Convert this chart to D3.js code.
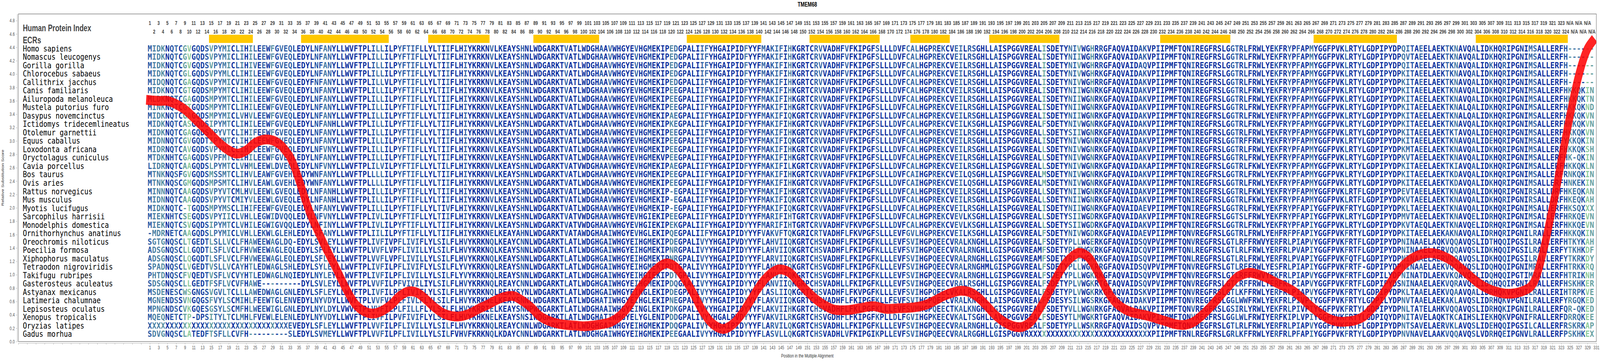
<!DOCTYPE html>
<html>
<head>
<meta charset="utf-8">
<title>TMEM68</title>
<script src="https://cdn.jsdelivr.net/npm/d3@7"></script>
<style>
  html, body { margin: 0; padding: 0; background: #fff; overflow: hidden; }
  svg { display: block; }
  .axis text { font-family: "Liberation Sans", Arial, sans-serif; font-size: 12px; fill: #555; }
  .axis path, .axis line { stroke: #aaa; }
</style>
</head>
<body>
<div id="chart"></div>
<script>
// species in the alignment, top to bottom
const species = [
  "Homo sapiens", "Nomascus leucogenys", "Gorilla gorilla", "Chlorocebus sabaeus",
  "Callithrix jacchus", "Canis familiaris", "Ailuropoda melanoleuca", "Mustela putorius furo",
  "Dasypus novemcinctus", "Ictidomys tridecemlineatus", "Otolemur garnettii", "Equus caballus",
  "Loxodonta africana", "Oryctolagus cuniculus", "Cavia porcellus", "Bos taurus", "Ovis aries",
  "Rattus norvegicus", "Mus musculus", "Myotis lucifugus", "Sarcophilus harrisii",
  "Monodelphis domestica", "Ornithorhynchus anatinus", "Oreochromis niloticus",
  "Poecilia formosa", "Xiphophorus maculatus", "Tetraodon nigroviridis", "Takifugu rubripes",
  "Gasterosteus aculeatus", "Astyanax mexicanus", "Latimeria chalumnae",
  "Lepisosteus oculatus", "Xenopus tropicalis", "Oryzias latipes", "Gadus morhua"
];

// aligned sequences, written as columns 1-83, 84-166, 167-249, 250-330
const seqs = [
  "MIDKNQTCGVGQDSVPYMICLIHILEEWFGVEQLEDYLNFANYLLWVFTPLILLILPYFTIFLLYLTIIFLHIYKRKNVLKEA" + "YSHNLWDGARKTVATLWDGHAAVWHGYEVHGMEKIPEDGPALIIFYHGAIPIDFYYFMAKIFIHKGRTCRVVADHFVFKIPGF" + "SLLLDVFCALHGPREKCVEILRSGHLLAISPGGVREALISDETYNIVWGHRRGFAQVAIDAKVPIIPMFTQNIREGFRSLGGT" + "RLFRWLYEKFRYPFAPMYGGFPVKLRTYLGDPIPYDPQITAEELAEKTKNAVQALIDKHQRIPGNIMSALLERFH------",
  "MIDKNQTCGVGQDSVPYMICLIHILEEWFGVEQLEDYLNFANYLLWVFTPLILLILPYFTIFLLYLTIIFLHIYKRKNVLKEA" + "YSHNLWDGARKTVATLWDGHAAVWHGYEVHGMEKIPEDGPALIIFYHGAIPIDFYYFMAKIFIHKGRTCRVVADHFVFKIPGF" + "SLLLDVFCALHGPREKCVEILRSGHLLAISPGGVREALISDETYNIIWGHRKGFAQVAIDAKVPIIPMFTQNIREGFRSLGGT" + "RLFRWLYEKFRYPFAPMYGGFPVKLRTYLGDPIPYDPQVTAEELAEKTKNAVQALIDKHQRIPGNIMSALLERFH------",
  "MIDKNQTCGVGQDSVPYMICLIHIVEEWFGVEQLEDYLNFANYLLWVFTPLILLILPYFTIFLLYLTIIFLHIYKRKNVLKEA" + "YSHNLWDGARKTVATLWDGHAAVWHGYEVHGMEKIPEDGPALIIFYHGAIPIDFYYFMAKIFIHKGRTCRVVADHFVFKIPGF" + "SLLLDVFCALHGPREKCVEILRSGHLLAISPGGVREALISDETYNIVWGHRRGFAQVAIDAQVPIIPMFTQNIREGFRSLGGT" + "RLFRWLYEKFRYPFAPMYGGFPVKLRTYLGDPIPYDPQITAEELAEKTKNAVQALIDKHQRIPGNIMSALLERFH------",
  "MIDKNQTCGLGQDSVPYMLCLIHILEEWFGVEQLEDYLNFANYLLWVFTPLILLILPYFTIFLLYLTIIFLHIYKRKNVLKEA" + "YSHNLWDGARKTVATLWDGHAAVWHGYEVHGMEKIPEDGPALIIFYHGAIPIDFYYFMAKIFIHKGRTCRVVADHFVFKIPGF" + "SLLLDVFCALHGPREKCVEILRSGHLLAISPGGVREALISDETYNIVWGHRKGFAQVAIDAKVPIIPMFTQNIREGFRSLGGT" + "RLFRWLYEKFRYPFAPMYGGFPVKLRTYLGDPIPYDPKITAEELAEKTKNAVQALIDKHQRIPGNIMSALLERFH------",
  "MIDQNQTCGAGQDSVPYMICVIHILEEWFGVEQLEDYFNFANYLLWVFTPLILLVLPYFTIFLLYLTIIFLHIYKRKNVLKEA" + "YSHNLWDGARKTVATLWDGHAAVWHGYEVHGMEKIPEDGPALIIFYHGAIPIDFYYFMAKIFIHKGRTCRVVADHFVFKIPGF" + "SLLLDVFCALHGPREKCVEILRSGHLLAISPGGVREALISDETYNIVWGHRRGFAQVAIDAKVPIIPMFTQNIREGFRSLGGT" + "RLFRWLYEKFRYPFAPMYGGFPVKLRTYLGDPIPYDPKITAEELAEKTKNAVQALIDKHQRIPGNIMSALLERFH------",
  "MIDKNQTCGTGQDSMPYMTCLIHILEEWFGVEQLEDYLNFANYLLWVFTPLILLILPYFTIFLLYLTIIFLHIYKRKNVLKEA" + "YSHNLWDGARKTVATLWDGHAAVWHGYEVHGMEKIPEEGPALIIFYHGAIPIDFYYFMAKIFIHKGRTCRVVADHFVFKIPGF" + "SLLLDVFCALHGPREKCVEILRSGHLLAISPGGVREALISDETYNIIWGNRKGFAQVAIDAKVPIIPMFTQNIREGFRSLGGT" + "RLFRWLYEKFRYPFAPMYGGFPVKLRTYLGDPIPYDPKITAEELAEKTKNAVQALIDKHQRIPGNIMSALLERFHKKQKIN",
  "MLDKNQTCGAGQDSMPYMTCLIHILEEWFGVEQLEDYLNFANYLLWVFTPLILLILPYFTIFLLYLTIIFLHIYKRKNVLKEA" + "YSHNLWDGARKTVATLWDGHAAVWHGYEVHGMEKIPEEGPALIIFYHGAIPIDFYYFMAKIFIHKGRTCRVVADHFVFKIPGF" + "SLLLDVFCALHGPREKCVEILRSGHLLAISPGGVREALISDETYNIIWGNRKGFAQVAIDAKVPIIPMFTQNIREGFRSLGGT" + "RLFRWLYEKFRYPFAPMYGGFPVKLRTYLGDPIPYDPKITAEELAEKTKNAVQALIDKHQRIPGNIMSALLERFHKKQKTN",
  "MINKNQTCGTGQDSMPYMTCLIHILEEWFGVEQLEDYLNFANYLLWVFTPLILLILPYFTIFLLYLTIIFLHIYKRKNVLKEA" + "YSHNLWDGARKTVATLWDGHAAVWHGYEVHGMEKIPEEGPALIIFYHGAIPIDFYYFMAKIFIHKGRTCRVVADHFVFKIPGF" + "SLLLDVFCALHGPREKCVEILRSGHLLAISPGGVREALISDETYNIIWGNRKGFAQVAIDAKVPIIPMFTQNIREGFRSLGGT" + "RLFRWLYEKFRYPFAPMYGGFPVKLRTYLGDPIPYDPKITAEELAEKTKNALQALIDKHQRIPGNIMSALLERFHKKQKND",
  "MIDKNQTCGAGQDSMPYMICLVHVLEEWFGVEQLEDYLNFANYLLWVFTPLILLILPYFTIFLLYLTIIFLHIYKRKNVLKEA" + "YSHNLWDGARKTVATLWDGHAAVWHGYEVHGMEKIPAEGPALIIFYHGAIPIDFYYFMAKIFIQKGRTCRVVADHFVFKIPGF" + "SLLLDVFCALHGPREKCVEILRSGHLLAISPGGVREALISDETYNIIWGNRKGFAQVAIDAKVPIIPMFTQNIREGFRSLGGT" + "RLFRWLYENFRYPFAPMYGGFPVKLRTYLGDPIPYDPKITAEELAEKTKNALQALIDKHQRIPGNIMSALLERFHKKQKVN",
  "MIDKNQTCASGQDSIPYMTCLIHILEEWFGVEQLEDYLNFANHLLWVFTPLILLILPYFTIFLLYLTIIFLHIYKRKNVLKEA" + "YSHNLWDGARKTVATLWDGHAAVWHGYEVHGMEKIPKEGPALIIFYHGAIPIDFYYFMAKIFIHKGRTCRVVADHFVFKIPGF" + "SLLLDVFCALHGPREKCVEILKSGHLLAISPGGVREALFSDETYNIVWGNRKGFAQVAIDAKVPIIPMFTQNIREGFRSLGGT" + "RLFRWLYEKFRYPFAPMYGGFPVKLRTYLGDPIPYDPKITAEELAEKTKNAVQALIDKHQRIPGNIMSALLERFHKKQKVN",
  "MIDKNQTCGAGQDSVPYVTCLIHIFEEWFGVEQLEDYLNFANYLLWVFTPLILLILPYFTIFLLYLTIIFLHIYKRKNVLKEA" + "YSHNLWDGARKTVATLWDGHAAVWHGYEVHGMEKIPEEGPALIIFYHGAIPIDFYYFMAKIFIHKGRTCRVVADHFVFKIPGF" + "SLLLDVFCALHGPREKCVEILRSGHLLAISPGGVREALLSDETYSIIWGNRKGFAQVAIDAKVPIIPMFTQNIREGFRSLGGT" + "RLFRWLYEKFRYPFAPMYGGFPVKLRTYLGDPIPYDPKITAEELAEKTKTAVQALIDEHQRIPGNIMSALLERFHKKQKVN",
  "MIDNNQTCGVGQDTIPYMTCLIHILEEWFGVEQLEDYLNFANYLLWVFTPLILLILPYFTIFLLYLTIIFLHIYKRKNVLKEA" + "YSHNLWDGARKTVATLWDGHAAVWHGYEVHGMEKIPEEGPALIIFYHGAIPIDFYYFMAKIFIQKGRTCRVVADHFVFKIPGF" + "SLLLDVFCALHGPREKCVEILRSGHLLAISPGGVREALISDETYNIVWGNRKGFAQVAIDAKVPIIPMFTQNIREGFRSLGGT" + "RFFRWLYEKFRYPFAPMYGGFPVKLRTYLGDPIPYDPKITAEELAEKTKNAVQALIDEHQRIPGNIMSALLERFYKKQKIN",
  "MIDRNQTCAVGQDSVPYMICLIHILEEWFGVEQLEDYLNFVNYLLWVFTPLILLILPYFTIFLLYLTIIFLHIYKRKNVLKEA" + "YSHNLWDGARKTVATLWDGHAAVWHGYEVHGMEKIPEEGPALIIFYHGAIPIDFYYFMAKIFIHKGRTCRVVADHFVFKIPGF" + "SLLLDVFCALHGPREKCVEILRSGHLLAISPGGVREALLSDETYNIVWGNRKGFAQVAIDAKVPIIPMFTQNIREGFRSLGGT" + "RLFRWLYEKFRYPFAPMYGGFPVKLRTYLGDPIPYDPKMTAEELAEKTKNAVQALIDKHQRIPGNIMSALLERFHKKQKSH",
  "MTDKNHTCGAGQDSVPFMTCLIHILEEWFGVEQLEDYLNFANYLLWVFTPLILLILPYFTIFLLYLTIIFLHIYKRKNVLKEA" + "YSHNLWDGARKTVATLWDGHAAVWHGYEVHGMEKVPEEGPALIIFYHGAIPIDFYYFMAKIFIHKGRTCRVVADHFVFKIPGF" + "SLLLDVFCALHGPREKCVEILRSGHLLAISPGGVREALLSDETYNIVWGNRKGFAQVAIDAKVPIIPMFTQNIREGFRSLGGT" + "RLFRWLYEKFRYPFAPMYGGFPVKLRTYLGDPIPYDPKVTAEELAEKTKNAVQALIDKHQRIPGNIMSALLERFHK-QKIN",
  "LIDRNQTCAAGQDSLPYMTCLVHMLEEWLDVEQLEDYLNFVNYLLWVFTPLILVILPYFTIFLLYLTILFLHIYKRKNVLKEA" + "YSHNLWDGARKTVATVWDGHAAVWHGYEVHGMEKIPAEGPALIIFYHGAIPIDFYYFMAKIFILKGRTCRVVADHFVFKIPGF" + "SLLLDVFCALHGPREKCVEILRSGHLLAISPGGVREALLSDETYNIVWGNRKGFAQVAIDAKAPIIPMFTQNIREGFRSLGGT" + "RLFKWLYEKFRYPFAPMYGGFPVKLRTYLGDPIPYDPKITAEELAEKTKIAVQALIDKHQRIPGNIMSALLERFHKKQKLN",
  "MTNKNQSFGVGQDSMSSMTCLIHVLEAWFGVEHLEDYWNFANYLLWVFTPLLLLILPYFTIFLLYLTIIFLHIYKRKNVLKEA" + "YSHNLWDGARKTVATLWDGHAAVWHGYEVHGMEKIPEEGPALIIFYHGAIPIDFYYFMAKIFIHKGRTCRVVADHFVFKIPGF" + "SLLLDVFCAIHGPREKCVEILQSGHLLAISPGGVREALMSDETYNIVWGNRKGFAQVAIDAKVPIIPMFTQNIREGFRSLGGT" + "RLFRWLYEKFRYPFAPMYGGFPVKLRTYLGDPIPYDPKITAEELAEKTKDAVQALIDKHQRIPGNIMSALLERFRNKQKIN",
  "MTNKNQSCGMGQDSMPSMTCLIHVLEAWLGVEHLEDYWNFANYLLWVFTPLLLLILPYFTIFLLYLTIIFLHIYKRKNVLKEA" + "YSHNLWDGARKTVATLWDGHAAVWHGYEVHGMEKIPEEGPALIIFYHGAIPIDFYYFMAKIFIHKGRTCRVVADHFVFKIPGF" + "SLLLDVFCAIHGPREKCVEILQSGHLLAISPGGVREALMSDETYNIVWGNRKGFAQVAIDAKVPIIPMFTQNIREGFRSLGGT" + "RLFRWLYEKFRYPFAPMYGGFPVKLRTYLGDPIPYDPKITAEELAEKTKDAVQALIDKHQRIPGNIMSALLERFHNKEKIN",
  "MINNNQTCAAGQDSVPYVTCMLHVLEEWLGVEQLEDYLNFANHLLWVFTPLILLILPYFTIFLLYLTIIFLHIYKRKNVLKEA" + "YSHNLWDGARKTVATLWDGHAAVWHGYEVHGMEKIP-EGPALIIFYHGAIPIDFYYFMAKIFIHKGRTCRVVADHFVFKIPGF" + "SLLLDVFCALHGPREKCVEILRSGHLLAISPGGVREALLSDETYNIIWGNRKGFAQVAIDAKVPIIPMFTQNIREGFRSLGGT" + "RLFKWLYEKFRYPFAPMYGGFPVKLRTFLGDPIPYDPEVTAEELAEKTKNAVQALIDKHQRIPGNIRSALLDRFHKEQKAN",
  "MIDNNQTCAAGQDSVPYVTCMIYVLEEWLGVEQLEDYLNFANHLLWVFTPLILLILPYFTIFLLYLTIIFLHIYKRKNVLKEA" + "YSHNLWDGARKTVATLWDGHAAVWHGYEVHGMEKIP-EGAALIIFYHGAIPIDFYYFMAKIFIQKGRTCRVVADHFVFKIPGF" + "SLLLDVFCALHGPREKCVEILRSGHLLAISPGGVREALLSDETYNIIWGNRKGFAQVAIDAKVPIIPMFTQNIREGFRSLGGT" + "RLFKWLYEKFRYPFAPMYGGFPVKLRTFLGDPIPYDPKVTAEELAEKTKNAVQALIDKHQRIPGNIRSALLDRFHKEQKAH",
  "MIDKNQTC-TGQDSMPYMSCLIHIFEEWFGVEQLEDYLNFANYLVWVFTPLILLILPYFTIFLLYLTIVFLHIYKRKNVLKEA" + "YSHNLWDGARKTVATLWDGHAAVWHGYEVHGMEKIP-EGPALIIFYHGAIPIDFYYFMAKIFIQKGRTCRVVADHFVFKIPGF" + "SLLLDVFCALHGPREKCVEILRSGHLLAISPGGVREALISDETYNIIWGNRKGFAQVAIDAEVPIIPMFTQNIREGFRSLGGT" + "RLFRWLYEKFRYPFAPIYGGFPVKFRTYLGDPIPYDPKLTAEELAEKTKNAVQALIDKHQRIPGNIMSALLERFHKSQXXX",
  "MIEKNHTCSEGQDSVPYIICLVHLLEGWIDVQQLEDYLNFVNYLLWVFTPLIVLILPYFTIFLLYLTIIFLHIYKRKNVLKEA" + "YSHNLWDGARKTVATVWDGHAAVWHGYEVHGIEKIPEEGPALIIFYHGAIPIDYYYFMARIFIHTGRTCRVVADHFVFKIPGF" + "SLLLDVFCALHGPREKCVEVLKSGHLLAISPGGVREALLSDETYSIIWGDRKGFAQVAIDAKVPIIPMFTQNIREGFRSLGGT" + "SLFRWLYEKFRYPFAPIYGGFPVKLRTYLGDPIPYDPMVTAEELAEKTKNAVQELIDRHQRIPGNIMSALLERFHRKQEVN",
  "MIEKNQTCSVGQDSIPYMTCLVHILEGWIGVQQLEDYLNFINYLLWVFTPLIVLILPYFTIFLLYLTIIFLHIYKRKNVLKEA" + "YSHNLWDGARKTVATVWDGHAAVWHGYEVHGIEKIPEKGPALIIFYHGAIPIDYYYFMARIFIHTGRTCRVVADHFVFKVPGF" + "SLLLDVFCALHGPREKCVEVLKSGHLLAISPGGVREALLSDETYSIIWGDRKGFAQVAIDAKVPIIPMFTQNIREGFRSLGGT" + "RLFRWLYEKFRYPFAPIYGGFPVKLRTYLGDPIPYDPKVTAEQLAEKTKNAVQELIDRHQRIPGNIMSALLERFHKKQEVN",
  "-MDRNETCAAGQDSLPYMICLVHLLEKWLGLEHLEDYLSFANYLLWVFTPLIILILPYFTIFLLYLTIIFLHIYKRKNELKEA" + "YAHNLWDGARKTVATAWDGHAAIWHGYEVHGLEKIPQEGPALIIFYHGAIPIDYYYFVAKVFTQKGRICRTVADHFLFKVPGF" + "SLLLEVFGVLHGPREKCVEILKSGHLLAISPGGVREALFSDETYNIVWGDRKGFAQVAIDAEVPIIPMFTQNVREGFRSLGGT" + "RLFRWLYEHFRFPFAPIYGGFPVKFRTYLGDPIPYDPKITAEELAEKAKNAVQALIDRHQRIPGNILRALLERFHKKQKIN",
  "SGTGNQSCLTGEDTLSLLVCLFHAWEEWAGLDQ-EDYLSVLEYLLWVFTPLIVFIVPFLIVIFLYLSILFLHVYKRKNQLKEA" + "YCNNLWDGARKTLATLWDGHGAIWHGYEIHGMEKIPDEGPALIVYYHGAIPVDYYYFLAHVIIQKGRTCHSVADHFLFKIPGF" + "KLLLEVFSVIHGPQEECVRALKNGHLLAISPGGVREALFSDETYPLLWGERKGFAQVAIDSQVPVIPMFTQNVREGFRSLGTL" + "RFFRWVYERFRLPIAPVYGGFPVKFRTFLGDPIPYDPNINAAELAQKVQQAVQSLIDTHQQIPGSILRALLERFHTKYKAH",
  "ADSGNQSCLLGQDTLSFLVCLFHVWEEWAGLEQLEDYLSFLEYLLWVFTPLVVFLVPFLIVILLYLSILFLHVYKRKNQLKEA" + "YSNNLWDGARKTLATLWDGHGAIWHGYEIHGMEKIPNRGPALIVYYHGAIPIDYYYFLAHVIIQKGRTCHSVADHFLFKIPGF" + "KLLLEVFSVIHGPQEECVRALRNGHLLGISPGGVREAMFSDETYRLFWGKRKGFAQVAIDCQVPIIPMFTQNLREGFRSLGTL" + "RLFRWLYERFRLPVAPIYGGFPVKFRTFLGDPIPYDPNINAAELAERVQQAVQSLIDKHQQIPGSILRALLERFYTKHKDF",
  "ADSGNQSCLQGQDTLSFLVCLFHVWEEWAGLEQLEDYLSFLEYLLWVFTPLVVFLVPFLIVILLYLSILFLHVYKRKNQLKEA" + "YSNNLWDGARKTLATLWDGHGAIWHGYEIHGMEKIPNRGPALIVYYHGAIPIDYYYFLARVIIQKGRTCHSVADHFLFKIPGF" + "KLLLEVFSVIHGPQEECVRALRNGHLLGISPGGVREAMFSDETYRLFWGKRKGFAQVAIDSQVPIIPMFTQNLREGFRSLGTL" + "RLFRWLYERFRLPVAPIYGGFPVKFQTFLGDPIPYDPNINAAELAERVQQAVQSLIDKHQQIPGSILRALLERFYTKRKDY",
  "SPADNQSCLVGEDTVSLLVCAYHTLEDWAGLSHLEDYLSYLEYLLWVFTPLIVFILPFLIVIFLYLSILFLYVYKRKNQLREA" + "YSNNLWDGARKTLATLWDGHGAIWHGYEIHGMEKIPDTGPALIVYYHGAIPIDYYYFLANVIIQKGRTCHSVGDHFLFKIPGF" + "KLLLEVFSVIHGPQEECVRALRNGHMLGISPGGVREALFSDETYPLLWGKRRGFAQVAIDSQVPVIPMFTQNVREGFRSLGTL" + "RFFRWLYESFRLPIAPIYGGFPVKFRTF-GDPIPYDPNINAAELAEKVQQAVQSLIDQHQQIPGNIMRALLERFHTRKKRQ",
  "PHTDNQSCFVQEDTVSFLVCVYHTLEDWAGLNQIEDYLNYLEYLLWVFTPLIVFILPFLIVILLYLSILFLYVYKRKNQLREA" + "YSNNLWDGARKTLATLWDGHGAIWHGYEIHGIEKIPDTGPALIVYYHGAIPIDYYYFLANVIIQKGRTCHSVGDHFLFKIPGF" + "KLLLEVFSVIHGPQEECVRALRNGHLLGISPGGVREALFSDETYPLLWGKRKGFAQVAIDSQVPVIPMFTQNVREGFRSLGTL" + "RFFRWVYEKFRLPIAPVYGGFPVKFRTFLGDPILYDPNINATDLAEKVKQAVQSLIDQHQQIPGTIMRALLERFHTRIKNH",
  "SDSGNQSCLLGEDTFSFLVCVFHAWE---------DYLSVLEYLLWVFTPLVVFILPFVIVILIYLSILFLHVYKRKNQLREA" + "YCNNLWDGARKTLATLWDGHGAIWHGYEIHGMEKIPDQGAALIVYYHGAIPIDYYYFLANVIIQKGRPCHSVADHLLFKIPGF" + "KLLLEVFSVIHGPQEECVRALRSGHLLGISPGGVREALFSDETYPLVWGKRTGFAQVAIDSQVPVIPMFTQNVREGFRSLGTL" + "RFFRWLYERFRLPIAPVYGGFPVKFRTFLGDPIPYDSNINAAELAEKVQRAVQSLIDQHQQIPGNILRALLERFHSKHKER",
  "MSDENESCWSGNGSVGVLTCLLLAWEDWAGLGNLEDYLSFLEYLLWVFTPLIVFILPFLIVIFLYLSILFLHVYKRKNQLREA" + "YSYNLWDGARKTLATLWDGHGAIWHGYEIHGLEKIPDEGPALIVYYHGAIPIDYYYFLASLIIQKGRTCHSVADHFLFKVPGF" + "KLLLEVFSVIHGPQEECVKALRSGHLLGISPGGVREALFSDETYPLVWGKRKGFAQVAIDSKVPIIPMFTQNVREGFRSLGTL" + "KFFRWLYERFRLPIAPVYGGFPVKFRTYLGDPIPYDPKLTAAELAEKVQAAVQALIDRHQKVPGNILRALLERIHTRPKVE",
  "MGNENDSSVNGQGSFVYLSCMIHLFEEWTGLENVEDYLNYVDYLLWVFTPLVVFVLPLFIVLFLYLSILFLHVYKRKNELKEA" + "YSNNLWDGARKTLATLWDGHATIWHGYEIHGLEKIPNEGPALIVYYHGAIPIDYYYFLAKVIIQKGRTCHSVADHFLFKIPGF" + "KLLFEVFSVIHGPQEECVRALKNGHLLAISPGGVREALFSDESYSILWGSRKGFAQVAIDAKVPIIPMFTQNVREGFRSLGGL" + "WWFRWLYEKFRLPIVPIYGGFPVKFRTYLGDPILYDPNVTAAELAEKAKLAVQSLIDRHQKVPGNILRALLERFYRGQKED",
  "MPNGNDSCVKGQESGSYLSCMFHLWEEWIGLGNLEDYLNYLDYLVWVFTPLVVFILPLFILLFLYLSILFLHVYKRRIELKEA" + "YSNNPWDGARKTLATLWDGHAAIWHGYEINGLEKIPDKGPALIVYYHGAIPIDYYYFLAKVIIHKGRTCHSVADHFLFKLPGF" + "KLLLEVFSVMHGPQEECTKALKNGHLLGISPGGVREALFSDETYVLLWGNRKGFAQVALDAKVPIIPMFTQNVREGFRSLGSI" + "RLYRWLYEKFRLPIVPIYGGFPVKFRTYLGDPIPYDPNLTATELAHKVQQAVQSLIDRHQKIPGNILRALLERFQR-QKED",
  "MQEQNETCTP-DPSITYLTCLMHLFVEWLELENLEDYLNYVDYLLWVFTPLIVFILPVFIVIFLYLSILFLHVYKHKNELKEA" + "YSNSIWDGARKTLATLWDGHATIWHGYELYGLENIPDDGPALIVYYHGALPVDYYYFVAKVILRKGRTCHSVGDHFLFKIPGF" + "KPLLDLFGVIHGPKEECVKALTSGHLLAVSPGGVREALFSDESYTLMWGKRTGFAQVAIDAKVPIIPMFTQNVREGFRSLGGL" + "WLFRWIYERFKIPLVPIYGGFPVKFRTYLGDPIQYDPNITAVELAQKTKCAIHSLIEKHQKVPGNIFRALLERFDRRQKEE",
  "XXXXXXXX" + "XXXXXXXX" + "XXXXXXXX" + "XXXXXXXX" + "EVEDYLSFLEYLLWVFTPLVVFILPFLIVILLYLSILFLHVYKRKNQLREA" + "YCNNLWDGARKTLATLWDGHGAIWHGYEIHGMEKIPDQGPALIVYYHGAIPIDYYYFLARVILQKGRTCHSVADHLLFKIPGF" + "KLLLEVFSVIHGPQEECVRALRNGHLLGISPGGVREALFSDETYPLLWSKRRGFAQVAIDSQVPVIPMFTQNVREGFRSLGTL" + "RLFRWLYERFRLPIAPVYGGFPVKFRTFLGDPIPYDPNTSAVELAERVKLAVQSLIDEHQQIPGSILCALLERFRSKRKAP",
  "SDVGNQSCLATEDFTSFLLCVFH---------SLEDYLSVMEYLLWVFTPLVVFILPFLIVILLYLSILFVHVFKRKNQLKDA" + "YCNNLWDGARKTLATLWDGHGAIWHGYEIHGMEKIPEEGAALIVYYHGAIPIDYYYFLASVLLQKGRTCHSVADHLVFKIPGI" + "KPLLEVFSVIHGPQEECVRALRGGHLLGISPGGVR" + "XXXXXXXX" + "XXXXXXXX" + "XXXXXXXX" + "XXXX" + "PIIPMFTRNLREGFRSLGRL" + "KFFRWLYERFRLPFAPIYGGFPVKFRTYLGDPIPYDPNVNAVELAAKVQQAVQSLVDRHQEIPGNVLRALLERFPSKHKEX"
];

// human protein index printed above each alignment column
const indexLabels = d3.range(1, 325).map(String)
  .concat(["N/A", "N/A", "N/A", "N/A", "N/A", "N/A"]);

// evolutionarily conserved regions, first and last column
const ecrs = [
  [15, 24], [36, 55], [65, 78], [89, 103], [124, 140], [152, 167],
  [175, 183], [193, 208], [232, 247], [267, 285], [304, 324]
];

// relative substitution score (red line)
const scoreCols = [
  1, 3, 5, 7, 9, 11, 13, 15, 17, 19, 21, 23, 25, 27, 29, 31, 32, 33, 34, 35, 36, 37, 38, 40, 41, 43,
  45, 46, 48, 50, 52, 54, 56, 58, 60, 62, 64, 66, 68, 70, 72, 74, 76, 78, 80, 82, 84, 86, 88, 90,
  92, 94, 96, 98, 100, 102, 104, 106, 108, 110, 112, 114, 116, 118, 119, 121, 123, 125, 127, 129,
  131, 132, 134, 136, 138, 140, 142, 144, 145, 147, 149, 151, 153, 155, 157, 160, 163, 166, 169,
  172, 175, 178, 180, 182, 184, 186, 188, 190, 192, 194, 196, 198, 200, 202, 204, 206, 208, 210,
  212, 213, 215, 217, 219, 221, 223, 225, 227, 229, 231, 233, 235, 237, 239, 241, 243, 245, 247,
  249, 251, 252, 254, 256, 258, 260, 262, 264, 266, 268, 270, 272, 274, 276, 278, 280, 282, 284,
  286, 288, 290, 292, 294, 296, 298, 300, 302, 304, 306, 308, 310, 312, 314, 316, 317, 318, 319,
  320, 321, 322, 323, 324, 325, 326, 327, 328, 329, 330
];
const scoreVals = [
  3.61, 3.60, 3.60, 3.55, 3.47, 3.35, 3.22, 3.09, 2.96, 2.86, 2.81, 2.86, 2.97, 3.02, 3.01, 2.93,
  2.85, 2.76, 2.61, 2.42, 2.22, 2.02, 1.85, 1.56, 1.42, 1.16, 0.89, 0.76, 0.55, 0.45, 0.42, 0.46,
  0.55, 0.68, 0.75, 0.73, 0.63, 0.51, 0.42, 0.38, 0.38, 0.42, 0.49, 0.55, 0.62, 0.67, 0.68, 0.61,
  0.51, 0.38, 0.31, 0.27, 0.25, 0.24, 0.23, 0.24, 0.26, 0.29, 0.37, 0.51, 0.72, 0.90, 1.05, 1.15,
  1.17, 1.11, 0.94, 0.72, 0.47, 0.29, 0.20, 0.19, 0.26, 0.41, 0.61, 0.82, 0.98, 1.07, 1.08, 1.03,
  0.89, 0.75, 0.63, 0.54, 0.48, 0.47, 0.50, 0.53, 0.49, 0.50, 0.51, 0.55, 0.61, 0.68, 0.73, 0.76,
  0.74, 0.66, 0.53, 0.39, 0.29, 0.23, 0.22, 0.30, 0.49, 0.73, 0.98, 1.18, 1.30, 1.33, 1.27, 1.07,
  0.81, 0.61, 0.50, 0.44, 0.41, 0.38, 0.34, 0.30, 0.26, 0.25, 0.29, 0.39, 0.52, 0.67, 0.82, 0.96,
  1.02, 1.03, 1.00, 0.95, 0.88, 0.82, 0.75, 0.64, 0.52, 0.42, 0.34, 0.30, 0.30, 0.32, 0.38, 0.51,
  0.68, 0.88, 1.07, 1.20, 1.28, 1.32, 1.32, 1.28, 1.21, 1.10, 0.99, 0.88, 0.80, 0.75, 0.72, 0.72,
  0.75, 0.82, 0.92, 1.12, 1.38, 1.68, 2.00, 2.33, 2.70, 3.05, 3.38, 3.70, 3.98, 4.21, 4.38, 4.48
];

const yTicks = [0.0, 0.2, 0.4, 0.6, 0.8, 1.0, 1.2, 1.4, 1.6, 1.8, 2.0, 2.2, 2.4, 2.6, 2.8, 3.0,
  3.2, 3.4, 3.6, 3.8, 4.0, 4.2, 4.4, 4.6, 4.8];

// the drawing is laid out on a 5378 x 925 board and stretched to the window
const width = 5378, height = 925;
const frame = {left: 61.7, right: 5365.6, top: 35.7, bottom: 875.3};
const nCol = indexLabels.length;

const x = d3.scaleLinear().domain([-29, 331]).range([frame.left, frame.right]);
const y = d3.scaleLinear().domain([0, 4.9]).range([frame.bottom, frame.top]);
const rowY = d3.scalePoint().domain(species).range([131.6, 863.4]);

const rows = seqs.map(s => s.padEnd(nCol, " ").slice(0, nCol));

// share of the most common residue in each column sets the letter colour
const conservation = d3.range(nCol).map(c => {
  const residues = rows.map(s => s[c]).filter(ch => /[A-WYZ]/.test(ch));
  const counts = d3.rollup(residues, v => v.length, d => d);
  return (d3.max(counts.values()) || 0) / rows.length;
});
const colour = d3.scaleLinear()
  .domain([0.3, 0.42, 0.6, 0.8, 0.95])
  .range(["#8fcc9c", "#5a95a0", "#3d6fa7", "#1c4aa6", "#0a2e9e"])
  .clamp(true);

const svg = d3.select("#chart").append("svg")
  .attr("width", window.innerWidth || width)
  .attr("height", window.innerHeight || height)
  .attr("viewBox", `0 0 ${width} ${height}`)
  .attr("preserveAspectRatio", "none");

svg.append("text")
  .attr("x", (frame.left + frame.right) / 2)
  .attr("y", 17)
  .attr("text-anchor", "middle")
  .style("font-family", "'Liberation Sans', Arial, sans-serif")
  .style("font-size", "16px")
  .style("font-weight", "bold")
  .text("TMEM68");

svg.append("rect")
  .attr("x", frame.left)
  .attr("y", frame.top)
  .attr("width", frame.right - frame.left)
  .attr("height", frame.bottom - frame.top)
  .attr("fill", "none")
  .attr("stroke", "#808080")
  .attr("stroke-width", 1.5);

// ECR bars
svg.append("g").selectAll("rect")
  .data(ecrs)
  .join("rect")
    .attr("x", d => x(d[0] - 0.5))
    .attr("y", 89)
    .attr("width", d => x(d[1] + 0.5) - x(d[0] - 0.5))
    .attr("height", 21)
    .attr("fill", "#ffc800");

// human protein index, odd columns on the upper line, even on the lower
svg.append("g")
    .style("font-family", "'Liberation Sans', Arial, sans-serif")
    .style("font-size", "14px")
    .style("font-weight", "bold")
    .attr("fill", "#444")
  .selectAll("text")
  .data(indexLabels)
  .join("text")
    .attr("x", (d, i) => x(i + 1))
    .attr("y", (d, i) => i % 2 === 0 ? 64 : 85.7)
    .attr("text-anchor", "middle")
    .text(d => d);

const heads = svg.append("g")
  .style("font-family", "'Liberation Sans', Arial, sans-serif")
  .style("font-size", "23px")
  .style("font-weight", "bold")
  .attr("fill", "#444");
heads.append("text").attr("x", 76.7).attr("y", 80).text("Human Protein Index");
heads.append("text").attr("x", 76.7).attr("y", 110.7).text("ECRs");

// species names
svg.append("g")
    .style("font-family", "'DejaVu Sans Mono', monospace")
    .style("font-size", "21px")
    .attr("fill", "#000")
  .selectAll("text")
  .data(species)
  .join("text")
    .attr("transform", d => `translate(76.7,${rowY(d)}) scale(1.09,1)`)
    .text(d => d);

// alignment letters
const letters = svg.append("g")
  .style("font-family", "'DejaVu Sans Mono', monospace")
  .style("font-size", "21px")
  .style("font-weight", "bold")
  .attr("text-anchor", "middle");

rows.forEach((s, r) => {
  const cells = s.split("").map((ch, c) => ({ch, c})).filter(d => d.ch !== " ");
  letters.append("g")
    .selectAll("text")
    .data(cells)
    .join("text")
      .attr("transform", d => `translate(${x(d.c + 1)},${rowY(species[r])}) scale(1.15,1)`)
      .attr("fill", d => colour(conservation[d.c]))
      .text(d => d.ch);
});

// substitution score line
svg.append("clipPath")
    .attr("id", "plot-clip")
  .append("rect")
    .attr("x", frame.left)
    .attr("y", frame.top)
    .attr("width", frame.right - frame.left)
    .attr("height", frame.bottom - frame.top);

const line = d3.line()
  .x(d => x(d[0]))
  .y(d => y(d[1]))
  .curve(d3.curveCatmullRom.alpha(0.5));

svg.append("path")
  .datum(d3.zip(scoreCols, scoreVals))
  .attr("clip-path", "url(#plot-clip)")
  .attr("d", line)
  .attr("fill", "none")
  .attr("stroke", "#ff0000")
  .attr("stroke-width", 25)
  .attr("stroke-linecap", "square")
  .attr("stroke-linejoin", "round")
  .attr("opacity", 0.86);

// axes
svg.append("g")
  .attr("class", "axis")
  .attr("transform", "translate(57.7,0)")
  .call(d3.axisLeft(y).tickValues(yTicks).tickFormat(d3.format(".1f"))
    .tickSize(4).tickSizeOuter(0).tickPadding(4))
  .selectAll("text").style("font-size", "12.5px");

const xTicks = d3.range(-29, 332, 2);
svg.append("g")
  .attr("class", "axis")
  .attr("transform", "translate(0,879)")
  .call(d3.axisBottom(x).tickValues(xTicks).tickFormat(d => d >= 1 ? d : "")
    .tickSize(4).tickSizeOuter(0).tickPadding(3));

svg.append("text")
  .attr("transform", `translate(13,${(frame.top + frame.bottom) / 2}) rotate(-90)`)
  .attr("text-anchor", "middle")
  .style("font-family", "'Liberation Sans', Arial, sans-serif")
  .style("font-size", "12px")
  .attr("fill", "#333")
  .text("Relative Substitution Score");

svg.append("text")
  .attr("x", (frame.left + frame.right) / 2)
  .attr("y", 916)
  .attr("text-anchor", "middle")
  .style("font-family", "'Liberation Sans', Arial, sans-serif")
  .style("font-size", "12px")
  .attr("fill", "#333")
  .text("Position in the Multiple Alignment");
</script>
</body>
</html>
